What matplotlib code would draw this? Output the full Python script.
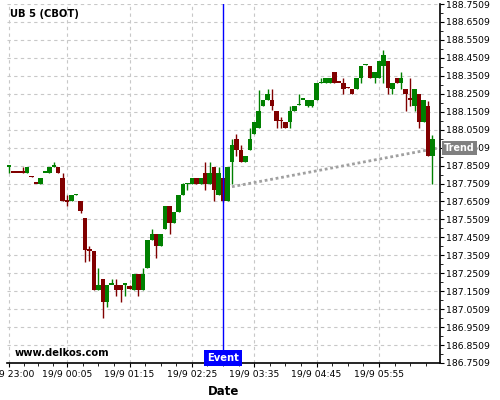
import numpy as np
import pandas as pd
from matplotlib import pyplot as plt
import matplotlib.dates as mdates
import matplotlib.transforms as mtransforms

# 5-minute candles, UB 5 (CBOT)
times = pd.date_range('2023-09-18 23:00', periods=96, freq='5min')
opens = [187.847, 187.817, 187.816, 187.816, 187.811, 187.790, 187.755, 187.749, 187.814, 187.811,
         187.846, 187.844, 187.781, 187.655, 187.654, 187.689, 187.654, 187.560, 187.382, 187.376,
         187.158, 187.219, 187.093, 187.190, 187.186, 187.186, 187.191, 187.180, 187.158, 187.247,
         187.158, 187.281, 187.437, 187.470, 187.403, 187.498, 187.627, 187.532, 187.593, 187.688,
         187.750, 187.749, 187.783, 187.749, 187.811, 187.749, 187.844, 187.688, 187.783, 187.654,
         187.872, 188.000, 187.939, 187.872, 187.939, 188.028, 188.062, 188.184, 188.218, 188.218,
         188.156, 188.102, 188.095, 188.095, 188.156, 188.189, 188.222, 188.184, 188.184, 188.218,
         188.312, 188.313, 188.313, 188.374, 188.318, 188.313, 188.286, 188.279, 188.279, 188.340,
         188.412, 188.407, 188.340, 188.340, 188.407, 188.435, 188.279, 188.340, 188.313, 188.279,
         188.224, 188.184, 188.251, 188.095, 188.184, 187.905]
highs = [187.851, 187.817, 187.816, 187.844, 187.844, 187.790, 187.755, 187.781, 187.816, 187.844,
         187.868, 187.844, 187.807, 187.688, 187.688, 187.691, 187.654, 187.560, 187.403, 187.376,
         187.281, 187.219, 187.186, 187.219, 187.219, 187.186, 187.193, 187.186, 187.247, 187.247,
         187.281, 187.437, 187.498, 187.470, 187.470, 187.627, 187.627, 187.593, 187.688, 187.752,
         187.752, 187.783, 187.783, 187.783, 187.869, 187.872, 187.844, 187.844, 187.783, 187.844,
         188.000, 188.028, 187.967, 187.905, 188.062, 188.095, 188.273, 188.218, 188.279, 188.279,
         188.156, 188.123, 188.095, 188.184, 188.184, 188.251, 188.224, 188.218, 188.218, 188.313,
         188.340, 188.340, 188.340, 188.374, 188.318, 188.340, 188.286, 188.279, 188.340, 188.407,
         188.414, 188.407, 188.374, 188.435, 188.497, 188.435, 188.313, 188.340, 188.374, 188.279,
         188.340, 188.279, 188.251, 188.218, 188.212, 188.023]
lows = [187.811, 187.814, 187.814, 187.812, 187.811, 187.788, 187.752, 187.749, 187.814, 187.811,
        187.845, 187.811, 187.654, 187.627, 187.654, 187.689, 187.589, 187.314, 187.320, 187.158,
        187.158, 187.002, 187.063, 187.190, 187.125, 187.091, 187.125, 187.164, 187.158, 187.125,
        187.158, 187.281, 187.437, 187.337, 187.403, 187.498, 187.470, 187.532, 187.593, 187.688,
        187.716, 187.749, 187.749, 187.749, 187.716, 187.749, 187.654, 187.688, 187.650, 187.654,
        187.749, 187.905, 187.872, 187.872, 187.939, 188.028, 188.062, 188.184, 188.218, 188.160,
        188.062, 188.062, 188.062, 188.062, 188.156, 188.189, 188.222, 188.178, 188.178, 188.218,
        188.312, 188.313, 188.313, 188.313, 188.316, 188.251, 188.284, 188.251, 188.279, 188.313,
        188.412, 188.340, 188.313, 188.340, 188.313, 188.251, 188.251, 188.313, 188.279, 188.156,
        188.184, 188.156, 188.062, 188.095, 187.905, 187.749]
closes = [187.851, 187.814, 187.814, 187.814, 187.844, 187.788, 187.752, 187.781, 187.816, 187.844,
          187.849, 187.811, 187.654, 187.653, 187.688, 187.691, 187.595, 187.381, 187.380, 187.158,
          187.186, 187.093, 187.186, 187.193, 187.158, 187.158, 187.193, 187.164, 187.247, 187.158,
          187.247, 187.437, 187.470, 187.403, 187.470, 187.627, 187.532, 187.593, 187.688, 187.749,
          187.752, 187.783, 187.749, 187.783, 187.749, 187.811, 187.716, 187.811, 187.654, 187.844,
          187.967, 187.939, 187.872, 187.905, 188.000, 188.095, 188.156, 188.218, 188.251, 188.184,
          188.101, 188.100, 188.062, 188.156, 188.184, 188.191, 188.224, 188.218, 188.218, 188.313,
          188.314, 188.340, 188.340, 188.313, 188.316, 188.279, 188.284, 188.251, 188.340, 188.407,
          188.414, 188.340, 188.374, 188.435, 188.469, 188.285, 188.313, 188.313, 188.340, 188.251,
          188.222, 188.279, 188.095, 188.218, 187.905, 188.000]

trend_times = pd.to_datetime(['2023-09-19 03:10', '2023-09-19 07:03'])
trend_vals = [187.733, 187.950]

event_time = pd.Timestamp('2023-09-19 03:00')

tick_times = pd.to_datetime(['2023-09-18 23:00', '2023-09-19 00:05', '2023-09-19 01:15',
                             '2023-09-19 02:25', '2023-09-19 03:35', '2023-09-19 04:45',
                             '2023-09-19 05:55'])
tick_labels = ['19/9 23:00', '19/9 00:05', '19/9 01:15', '19/9 02:25',
               '19/9 03:35', '19/9 04:45', '19/9 05:55']

green = '#008000'
red = '#800000'

fig = plt.figure(figsize=(5, 4), dpi=100)
ax = fig.add_axes([0.014, 0.0925, 0.866, 0.8975])

x = mdates.date2num(times)
o = np.array(opens)
h = np.array(highs)
l = np.array(lows)
c = np.array(closes)
cols = [green if cc >= oo else red for oo, cc in zip(o, c)]
width = 5.0 / 1440

ax.vlines(x, l, h, colors=cols, linewidth=1, zorder=3)
body_lo = np.minimum(o, c)
body_h = np.abs(c - o)
mid = (o + c) / 2
thin = body_h < 0.009
body_lo = np.where(thin, mid - 0.0045, body_lo)
body_h = np.where(thin, 0.009, body_h)
ax.bar(x, body_h, width=width, bottom=body_lo, color=cols, linewidth=0, zorder=4)

# trend
ax.plot(mdates.date2num(trend_times), trend_vals, color='#a0a0a0', linestyle=(0, (1, 1)),
        linewidth=2, zorder=3, clip_on=False)

# event marker
ex = mdates.date2num(event_time)
ax.axvline(ex, color='#0000ff', linewidth=1, zorder=5)
ax.text(ex, 0.0, 'Event', transform=mtransforms.blended_transform_factory(ax.transData, ax.transAxes),
        ha='center', va='bottom', color='white', fontsize=7.2, fontweight='bold', zorder=6,
        bbox=dict(boxstyle='square,pad=0.28', fc='#0000ff', ec='none'))

ax.text(1.01, trend_vals[-1], 'Trend',
        transform=mtransforms.blended_transform_factory(ax.transAxes, ax.transData),
        ha='left', va='center', color='white', fontsize=6.9, fontweight='bold', zorder=10,
        clip_on=False, bbox=dict(boxstyle='square,pad=0.22', fc='#808080', ec='none'))

ax.text(0.007, 0.985, 'UB 5 (CBOT)', transform=ax.transAxes, ha='left', va='top',
        fontsize=7.2, fontweight='bold')
ax.text(0.018, 0.015, 'www.delkos.com', transform=ax.transAxes, ha='left', va='bottom',
        fontsize=7.2, fontweight='bold')

# axes
x0 = mdates.date2num(pd.Timestamp('2023-09-18 22:57:30'))
x1 = mdates.date2num(pd.Timestamp('2023-09-19 07:03:30'))
ax.set_xlim(x0, x1)
ax.set_ylim(186.7509, 188.7509)

tk = mdates.date2num(tick_times)
ax.set_xticks(tk)
ax.set_xticklabels(tick_labels, fontsize=6.7)
minor = []
for a, b in zip(tk[:-1], tk[1:]):
    minor += list(np.linspace(a, b, 5)[1:-1])
step = 17.5 / 1440
m = tk[-1] + step
while m < x1:
    minor.append(m)
    m += step
ax.set_xticks(minor, minor=True)

yt = np.arange(186.7509, 188.76, 0.1)
ax.set_yticks(yt)
ax.set_yticklabels(['%.4f' % v for v in yt], fontsize=6.7)
ax.set_yticks(yt[:-1] + 0.05, minor=True)
ax.yaxis.tick_right()
ax.tick_params(axis='both', which='major', length=3, width=0.8, pad=1.5)
ax.tick_params(axis='both', which='minor', length=2, width=0.6)

for s in ['left', 'top']:
    ax.spines[s].set_visible(False)
ax.spines['right'].set_linewidth(1.2)
ax.spines['bottom'].set_linewidth(1.2)

ax.grid(True, which='major', color='#c8c8c8', linestyle=(0, (3, 3)), linewidth=0.8)
ax.set_axisbelow(True)

ax.set_xlabel('Date', fontsize=8.5, fontweight='bold', labelpad=5)

plt.savefig('out.png', dpi=100)
